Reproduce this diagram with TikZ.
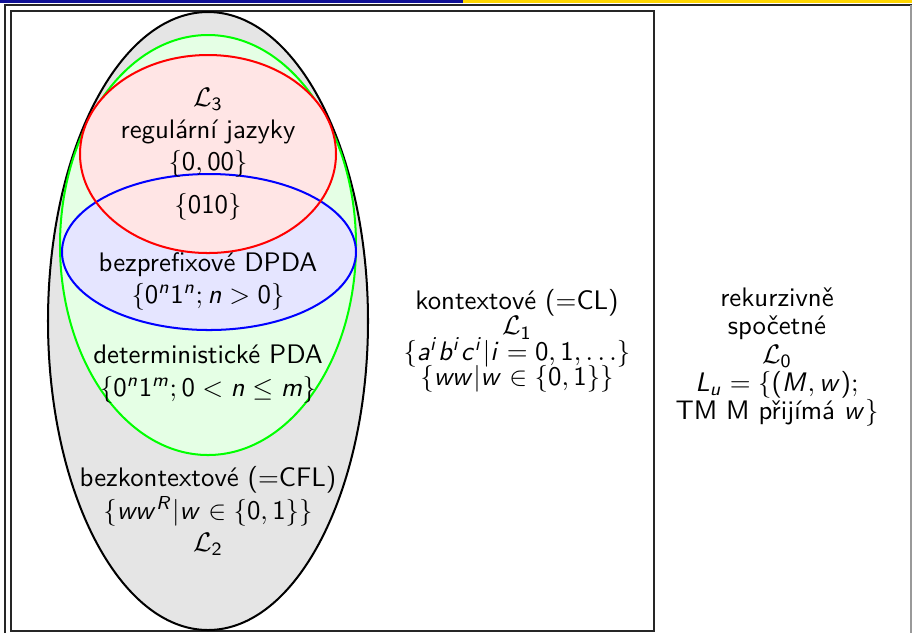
\documentclass[tikz,border=0pt]{standalone}
\usepackage{amsmath,amssymb}
\usepackage{xcolor}
\usepackage{tikz}

% sans letters and digits in math, as on the slide
\DeclareSymbolFont{sfit}{OT1}{cmss}{m}{sl}
\DeclareSymbolFont{sfup}{OT1}{cmss}{m}{n}
\DeclareMathSymbol{a}{\mathalpha}{sfit}{`a}
\DeclareMathSymbol{b}{\mathalpha}{sfit}{`b}
\DeclareMathSymbol{c}{\mathalpha}{sfit}{`c}
\DeclareMathSymbol{i}{\mathalpha}{sfit}{`i}
\DeclareMathSymbol{m}{\mathalpha}{sfit}{`m}
\DeclareMathSymbol{n}{\mathalpha}{sfit}{`n}
\DeclareMathSymbol{u}{\mathalpha}{sfit}{`u}
\DeclareMathSymbol{w}{\mathalpha}{sfit}{`w}
\DeclareMathSymbol{L}{\mathalpha}{sfit}{`L}
\DeclareMathSymbol{M}{\mathalpha}{sfit}{`M}
\DeclareMathSymbol{R}{\mathalpha}{sfit}{`R}
\DeclareMathSymbol{0}{\mathord}{sfup}{`0}
\DeclareMathSymbol{1}{\mathord}{sfup}{`1}
\DeclareMathSymbol{2}{\mathord}{sfup}{`2}
\DeclareMathSymbol{3}{\mathord}{sfup}{`3}
\DeclareMathSymbol{(}{\mathopen}{sfup}{`(}
\DeclareMathSymbol{)}{\mathclose}{sfup}{`)}

\definecolor{barblue}{RGB}{16,16,150}
\definecolor{baryellow}{RGB}{255,214,0}

\begin{document}
\begin{tikzpicture}[
    x=0.3731pt, y=-0.3731pt,
    every node/.style={font=\sffamily, align=center},
    frameline/.style={draw=black!85, line width=0.75pt},
    langset/.style={line width=0.75pt}
]
\useasboundingbox (0,0) rectangle (912,633);

% Frame
\fill[barblue] (0,0) rectangle (463,2.5);
\fill[baryellow] (463,0) rectangle (912,2.5);
\draw[frameline] (5,633) |- (912,5);
\draw[black!40, line width=0.75pt] (911,5) -- (911,633);
\draw[frameline] (11,11) rectangle (654,631);

% Sets
\draw[langset, fill=black!10] (208,321) ellipse [x radius=160, y radius=309];
\draw[langset, draw=green, fill=green!10] (208,245) ellipse [x radius=148, y radius=210];
\fill[blue!10] (209,252) ellipse [x radius=147, y radius=78];
\fill[red!10] (208,154) ellipse [x radius=128, y radius=99];
\draw[langset, blue] (209,252) ellipse [x radius=147, y radius=78];
\draw[langset, red] (208,154) ellipse [x radius=128, y radius=99];

% Labels
\node (reg) at (208,133) {$\mathcal{L}_3$\\ regulární jazyky\\ $\{0,00\}$};
\node (both) at (208,207) {$\{010\}$};
\node (pfdpda) at (208,281) {bezprefixové DPDA\\ $\{0^n1^n; n>0\}$};
\node (dpda) at (208,374) {deterministické PDA\\ $\{0^n1^m; 0<n\leq m\}$};
\node (cfl) at (208,511) {bezkontextové ($=$CFL)\\ $\{ww^R|w\in\{0,1\}\}$\\ $\mathcal{L}_2$};
\node (cl) at (517,341) {kontextové ($=$CL)\\[-2.5pt] $\mathcal{L}_1$\\[-2.5pt] $\{a^ib^ic^i|i=0,1,\ldots\}$\\[-2.5pt] $\{ww|w\in\{0,1\}\}$};
\node (re) at (777,357) {rekurzivně\\[-1.5pt] spočetné\\[-1.5pt] $\mathcal{L}_0$\\[-1.5pt] $L_u=\{(M,w);$\\[-1.5pt] TM M přijímá $w\}$};

\end{tikzpicture}
\end{document}
